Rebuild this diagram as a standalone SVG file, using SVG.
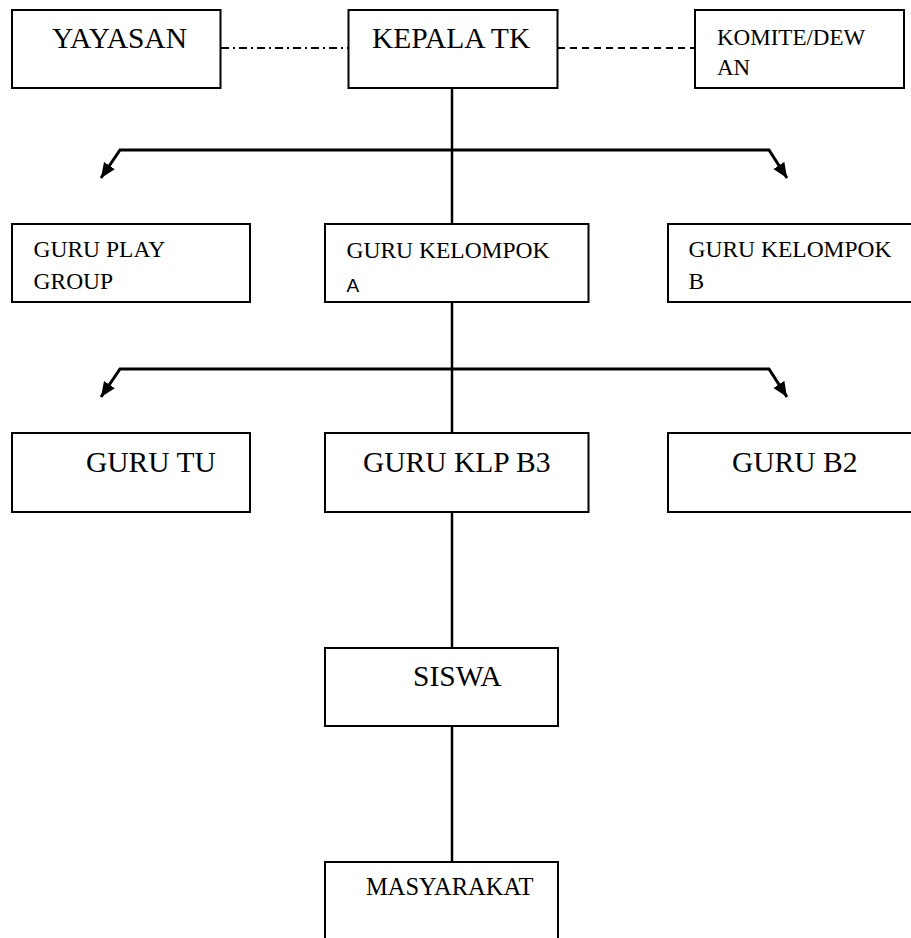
<svg xmlns="http://www.w3.org/2000/svg" width="911" height="938" viewBox="0 0 911 938">
<defs>
<style>
.box{fill:#fff;stroke:#000;stroke-width:2}
text{font-family:'Liberation Serif','Times New Roman',serif;fill:#000}
.big{font-size:29.5px}
.mid{font-size:23.5px}
.ln{fill:none;stroke:#000;stroke-width:2.5}
.bar{fill:none;stroke:#000;stroke-width:3}
</style>
<marker id="ah" markerUnits="userSpaceOnUse" markerWidth="17" markerHeight="14" refX="15" refY="6.5" orient="auto">
<path d="M0,0 L15,6.5 L0,13 z" fill="#000"/>
</marker>
</defs>
<rect width="911" height="938" fill="#fff"/>
<g id="connectors">
<line x1="221" y1="48" x2="348" y2="48" stroke="#000" stroke-width="2" stroke-dasharray="8 4 2 4"/>
<line x1="558" y1="48" x2="695" y2="48" stroke="#000" stroke-width="2" stroke-dasharray="7 5"/>
<line class="ln" x1="452" y1="88" x2="452" y2="224"/>
<path class="bar" d="M452,150 H120 L101,178" marker-end="url(#ah)"/>
<path class="bar" d="M452,150 H769 L787,178" marker-end="url(#ah)"/>
<line class="ln" x1="452" y1="302" x2="452" y2="438"/>
<path class="bar" d="M452,369 H120 L101,397" marker-end="url(#ah)"/>
<path class="bar" d="M452,369 H769 L787,397" marker-end="url(#ah)"/>
<line class="ln" x1="452" y1="512" x2="452" y2="648"/>
<line class="ln" x1="452" y1="726" x2="452" y2="862"/>
</g>
<g id="yayasan"><rect class="box" x="12" y="10" width="208.5" height="78"/><text class="big" x="52" y="48">YAYASAN</text></g>
<g id="kepala"><rect class="box" x="348.5" y="10" width="209" height="78"/><text class="big" x="372" y="48">KEPALA TK</text></g>
<g id="komite"><rect class="box" x="695" y="10" width="209" height="78"/><text font-size="23" x="717" y="44.5">KOMITE/DEW</text><text font-size="23" x="717" y="75">AN</text></g>
<g id="guru-play"><rect class="box" x="12" y="224" width="238" height="78"/><text class="mid" x="33.5" y="257">GURU PLAY</text><text class="mid" x="33.5" y="288.5">GROUP</text></g>
<g id="guru-kelompok-a"><rect class="box" x="325" y="224" width="263.5" height="78"/><text class="mid" x="346.5" y="257.5">GURU KELOMPOK</text><text x="346.5" y="292" style="font-family:'Liberation Sans',Arial,sans-serif;font-size:19px">A</text></g>
<g id="guru-kelompok-b"><rect class="box" x="668" y="224" width="250" height="78"/><text class="mid" x="688.5" y="257">GURU KELOMPOK</text><text class="mid" x="688.5" y="288.5">B</text></g>
<g id="guru-tu"><rect class="box" x="12" y="433" width="238" height="79"/><text class="big" x="86" y="472">GURU TU</text></g>
<g id="guru-klp-b3"><rect class="box" x="325" y="433" width="263.5" height="79"/><text class="big" x="363" y="472">GURU KLP B3</text></g>
<g id="guru-b2"><rect class="box" x="668" y="433" width="250" height="79"/><text class="big" x="732" y="472">GURU B2</text></g>
<g id="siswa"><rect class="box" x="325" y="648" width="233" height="78"/><text class="big" x="413" y="686">SISWA</text></g>
<g id="masyarakat"><rect class="box" x="325" y="862" width="233" height="90"/><text font-size="24.5" x="366" y="895">MASYARAKAT</text></g>
</svg>
